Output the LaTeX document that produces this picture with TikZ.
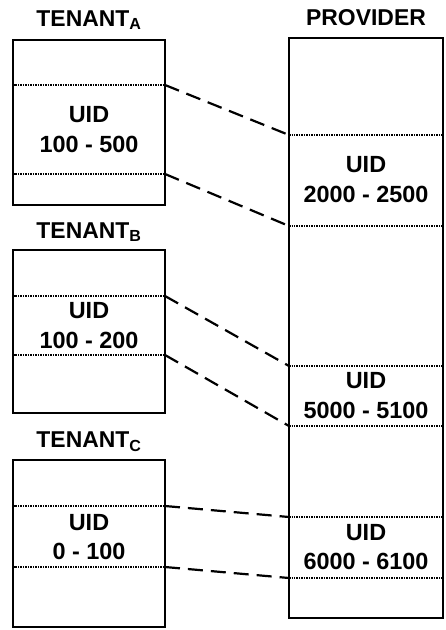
\documentclass[tikz,border=0pt]{standalone}
\usepackage{fontspec}
\setmainfont{Liberation Sans}
\begin{document}
\begin{tikzpicture}[x=1bp,y=-1bp,
  box/.style={draw, line width=2.4bp, inner sep=0pt},
  divider/.style={line width=1.5bp, densely dotted},
  link/.style={line width=2.2bp, dash pattern=on 15bp off 8bp},
  lbl/.style={inner sep=0pt, align=center, font=\bfseries\fontsize{23.5}{30}\selectfont},
  title/.style={inner sep=0pt, font=\bfseries\fontsize{23}{28}\selectfont}]
\useasboundingbox (0,0) rectangle (446,630);

% Tenant A
\node[title] (tA) at (89,20) {TENANT\textsubscript{A}};
\draw[box] (13,40) rectangle (165,205);
\coordinate (a1l) at (13,85);  \coordinate (a1) at (165,85);
\coordinate (a2l) at (13,174); \coordinate (a2) at (165,174);
\draw[divider] (a1l) -- (a1);
\draw[divider] (a2l) -- (a2);
\node[lbl] (uA) at (89,130) {UID\\100 - 500};

% Tenant B
\node[title] (tB) at (89,232) {TENANT\textsubscript{B}};
\draw[box] (13,250) rectangle (165,413);
\coordinate (b1l) at (13,296);  \coordinate (b1) at (165,296);
\coordinate (b2l) at (13,355); \coordinate (b2) at (165,355);
\draw[divider] (b1l) -- (b1);
\draw[divider] (b2l) -- (b2);
\node[lbl] (uB) at (89,326) {UID\\100 - 200};

% Tenant C
\node[title] (tC) at (89,442) {TENANT\textsubscript{C}};
\draw[box] (13,460) rectangle (165,627);
\coordinate (c1l) at (13,506);  \coordinate (c1) at (165,506);
\coordinate (c2l) at (13,567); \coordinate (c2) at (165,567);
\draw[divider] (c1l) -- (c1);
\draw[divider] (c2l) -- (c2);
\node[lbl] (uC) at (89,537) {UID\\0 - 100};

% Provider
\node[title] (tP) at (366,18) {PROVIDER};
\draw[box] (289,38) rectangle (443,618);
\coordinate (p1) at (289,135); \coordinate (p1r) at (443,135);
\coordinate (p2) at (289,226); \coordinate (p2r) at (443,226);
\coordinate (p3) at (289,366); \coordinate (p3r) at (443,366);
\coordinate (p4) at (289,426); \coordinate (p4r) at (443,426);
\coordinate (p5) at (289,517); \coordinate (p5r) at (443,517);
\coordinate (p6) at (289,578); \coordinate (p6r) at (443,578);
\foreach \i in {1,...,6} {\draw[divider] (p\i) -- (p\i r);}
\node[lbl] (uP1) at (366,180) {UID\\2000 - 2500};
\node[lbl] (uP2) at (366,396) {UID\\5000 - 5100};
\node[lbl] (uP3) at (366,547) {UID\\6000 - 6100};

% Links
\draw[link] (a1) -- (p1);
\draw[link] (a2) -- (p2);
\draw[link] (b1) -- (p3);
\draw[link] (b2) -- (p4);
\draw[link] (c1) -- (p5);
\draw[link] (c2) -- (p6);
\end{tikzpicture}
\end{document}
